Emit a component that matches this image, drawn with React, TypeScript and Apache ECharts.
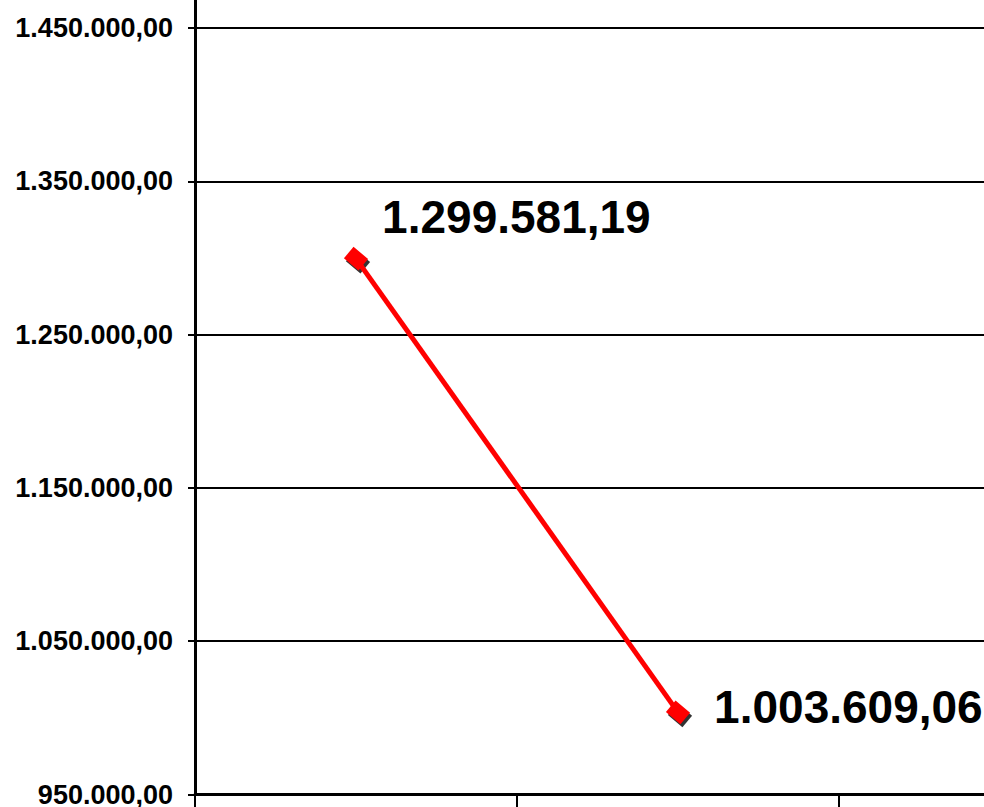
import React, { useEffect, useRef } from "react";
import * as echarts from "echarts";

const categories = ["1", "2", "3"];
const values: (number | null)[] = [1299581.19, 1003609.06, null];
const yMin = 950000;
const yMax = 1500000;
const yStep = 100000;

function fmt(v: number): string {
  const neg = v < 0;
  const a = Math.abs(v);
  const fixed = a.toFixed(2);
  const [intPart, dec] = fixed.split(".");
  const withDots = intPart.replace(/\B(?=(\d{3})+(?!\d))/g, ".");
  return (neg ? "-" : "") + withDots + "," + dec;
}

export default function App() {
  const ref = useRef<HTMLDivElement>(null);
  useEffect(() => {
    if (!ref.current) return;
    const chart = echarts.init(ref.current, null, { renderer: "svg" });
    const labelCfg = [
      { distance: 14, offset: [0, -42] },
      { distance: 24, offset: [0, -5] },
      { distance: 20, offset: [0, 0] },
    ];
    const markerSize = [19, 15];
    const markerRotate = -40;
    chart.setOption({
      animation: false,
      backgroundColor: "#ffffff",
      grid: {
        left: 195,
        top: -48.6,
        width: 966,
        height: 843.1,
        containLabel: false,
        outerBoundsMode: "none",
      },
      xAxis: {
        type: "category",
        data: categories,
        boundaryGap: true,
        axisLine: { show: true, lineStyle: { color: "#000", width: 3 } },
        axisTick: { show: true, length: 14, lineStyle: { color: "#000", width: 2 } },
        axisLabel: { show: false },
        splitLine: { show: false },
      },
      yAxis: {
        type: "value",
        min: yMin,
        max: yMax,
        interval: yStep,
        axisLine: { show: true, lineStyle: { color: "#000", width: 3 } },
        axisTick: { show: true, length: 7, lineStyle: { color: "#000", width: 2 } },
        axisLabel: {
          show: true,
          margin: 22,
          showMaxLabel: false,
          color: "#000",
          fontFamily: "Liberation Sans",
          fontWeight: "bold",
          fontSize: 27,
          lineHeight: 20,
          formatter: (v: number) => fmt(v),
        },
        splitLine: { show: true, lineStyle: { color: "#000", width: 2 } },
      },
      series: [
        {
          type: "scatter",
          data: values,
          symbol: "rect",
          symbolSize: markerSize,
          symbolRotate: markerRotate,
          symbolOffset: [2, 3],
          itemStyle: { color: "#000" },
          silent: true,
          z: 1,
        },
        {
          type: "line",
          data: values.map((v, i) => ({
            value: v,
            label: {
              show: v != null,
              position: "right",
              distance: labelCfg[i].distance,
              offset: labelCfg[i].offset,
              formatter: (p: any) => fmt(p.value),
              color: "#000",
              fontFamily: "Liberation Sans",
              fontWeight: "bold",
              fontSize: 46,
            },
          })),
          symbol: "rect",
          symbolSize: markerSize,
          symbolRotate: markerRotate,
          showAllSymbol: true,
          lineStyle: { color: "#ff0000", width: 5 },
          itemStyle: { color: "#ff0000" },
          z: 2,
        },
      ],
    });
    return () => chart.dispose();
  }, []);
  return (
    <div
      ref={ref}
      style={{ position: "fixed", left: 0, top: 0, width: 984, height: 807, background: "#fff" }}
    />
  );
}
